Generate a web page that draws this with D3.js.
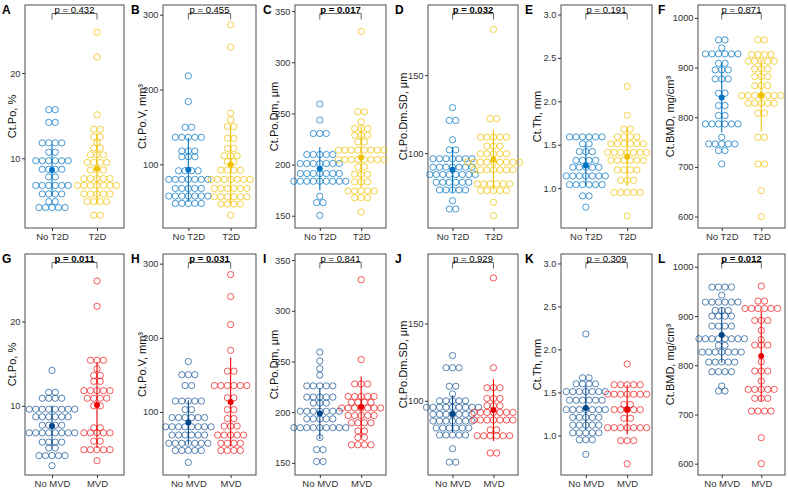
<!DOCTYPE html>
<html>
<head>
<meta charset="utf-8">
<script src="https://cdn.jsdelivr.net/npm/d3@7"></script>
<style>
  body { margin: 0; background: #fff; }
  text { font-family: "Liberation Sans", Arial, Helvetica, sans-serif; }
</style>
</head>
<body>
<div id="chart"></div>
<script>
// groups and labels
const groupsT2D = ["No T2D", "T2D"];
const groupsMVD = ["No MVD", "MVD"];
const lettersT2D = ["A", "B", "C", "D", "E", "F"];
const lettersMVD = ["G", "H", "I", "J", "K", "L"];
const yTitles = ["Ct.Po, %", "Ct.Po.V, mm³", "Ct.Po.Dm, μm", "Ct.Po.Dm.SD, μm", "Ct.Th, mm", "Ct.BMD, mg/cm³"];
const yTicks = [[10, 20], [100, 200, 300], [150, 200, 250, 300, 350], [100, 150], [1, 1.5, 2, 2.5, 3], [600, 700, 800, 900, 1000]];
const yDomains = [[1.8, 28], [15, 313], [138, 356], [52, 195], [0.54, 3.11], [577, 1026]];
const pT2D = ["0.432", "0.455", "0.017", "0.032", "0.191", "0.871"];
const pMVD = ["0.011", "0.031", "0.841", "0.929", "0.309", "0.012"];

// dot rows: [value, number of dots in the stack]
const poNoT2D = [[15.7,2],[14.2,2],[11.8,4],[10.7,2],[9.7,6],[8.7,4],[7.8,2],[6.8,6],[5.8,4],[4.9,2],[4.2,5]];
const poT2D = [[24.8,1],[21.9,1],[15.1,1],[13.4,2],[12.5,2],[11.8,1],[11.2,2],[10.4,3],[9.5,4],[8.6,3],[7.6,5],[6.8,7],[5.8,5],[4.9,4],[3.3,2]];
const povNoT2D = [[218.3,1],[183.9,1],[149.6,2],[136.2,5],[117.9,3],[110.3,3],[91.5,4],[79.9,7],[67.9,5],[57.6,7],[47.8,5]];
const povT2D = [[286.6,1],[256.7,1],[168.3,1],[159.4,1],[150.4,2],[134.8,2],[121.4,2],[111.6,3],[103.6,2],[92.4,4],[79.9,7],[67.9,6],[56.7,6],[46.9,4],[32.1,1]];
const dmNoT2D = [[259.2,1],[243.5,1],[230.4,3],[209.8,5],[201.0,7],[191.2,7],[183.7,9],[169.0,1],[162.8,2],[150.3,1]];
const dmT2D = [[330.1,1],[251.6,2],[241.8,1],[235.3,3],[228.8,3],[222.2,2],[214.1,8],[204.9,8],[197.7,2],[190.5,3],[183.0,3],[174.2,5],[167.6,3],[153.6,1]];
const sdNoT2D = [[129.2,1],[121.0,2],[108.6,1],[102.1,2],[96.4,7],[91.0,7],[86.3,8],[81.3,6],[76.4,5],[69.5,1],[64.2,2]];
const sdT2D = [[179.4,1],[122.1,2],[110.3,5],[104.5,3],[99.6,5],[94.2,9],[89.3,7],[80.3,6],[76.0,5],[68.5,1],[59.9,1]];
const thNoT2D = [[1.59,6],[1.51,2],[1.42,3],[1.32,4],[1.24,5],[1.14,7],[1.04,6],[0.91,2],[0.78,1]];
const thT2D = [[2.17,1],[1.84,1],[1.68,2],[1.59,4],[1.51,6],[1.41,7],[1.32,6],[1.21,4],[1.09,3],[0.95,5],[0.68,1]];
const bmdNoT2D = [[955.7,2],[939.6,1],[927.5,6],[908.7,2],[895.3,3],[877.2,3],[848.3,2],[823.5,2],[803.4,2],[786.6,6],[759.7,1],[746.3,5],[732.9,2],[706.0,1]];
const bmdT2D = [[955.7,2],[926.2,4],[912.8,5],[897.3,3],[881.9,3],[863.8,3],[843.6,7],[828.2,5],[808.1,2],[759.7,2],[706.0,2],[652.3,1],[600.0,1]];

const poNoMVD = [[14.2,1],[11.6,2],[10.9,4],[9.6,8],[8.7,6],[7.7,4],[6.8,8],[5.7,4],[5.0,2],[4.1,5],[2.9,1]];
const poMVD = [[24.8,1],[21.8,1],[15.4,3],[14.4,1],[13.6,2],[12.9,2],[11.8,5],[10.9,4],[10.0,2],[7.4,2],[6.8,5],[5.8,2],[4.8,5],[3.5,1]];
const povNoMVD = [[168.0,1],[150.2,3],[135.6,2],[114.7,5],[103.1,2],[92.4,6],[80.0,8],[68.9,6],[57.8,7],[48.0,5],[32.0,1]];
const povMVD = [[285.3,1],[255.6,1],[217.8,1],[183.1,1],[155.0,2],[135.6,6],[119.1,2],[103.1,2],[91.1,2],[80.9,3],[68.9,5],[57.8,4],[48.0,4]];
const dmNoMVD = [[259.2,1],[250.5,1],[243.0,1],[236.5,1],[225.9,5],[214.8,5],[209.0,3],[200.9,7],[193.4,5],[184.7,9],[175.0,1],[163.0,2],[151.3,2]];
const dmMVD = [[330.6,1],[251.8,1],[227.8,3],[215.5,5],[209.6,4],[204.1,7],[196.7,5],[189.5,4],[181.4,2],[175.0,2],[167.8,4]];
const sdNoMVD = [[129.3,1],[121.4,3],[109.4,2],[104.5,1],[100.0,5],[95.8,9],[91.3,7],[86.9,7],[82.4,6],[77.9,5],[69.0,1],[60.3,2]];
const sdMVD = [[179.5,1],[121.4,1],[108.5,3],[101.5,3],[96.8,3],[92.5,7],[87.6,7],[81.2,2],[77.4,6],[66.2,2]];
const thNoMVD = [[2.18,1],[1.67,2],[1.60,4],[1.51,7],[1.41,6],[1.30,7],[1.21,5],[1.12,5],[1.03,5],[0.95,3],[0.78,1]];
const thMVD = [[1.83,1],[1.59,5],[1.48,7],[1.36,2],[1.30,5],[1.20,2],[1.09,7],[0.94,3],[0.67,1]];
const bmdNoMVD = [[958.7,4],[942.5,1],[928.3,6],[911.3,3],[899.8,4],[879.5,4],[853.8,8],[840.3,2],[826.7,7],[806.4,5],[786.8,4],[757.7,1],[747.5,2]];
const bmdMVD = [[960.7,1],[930.3,2],[915.4,6],[891.0,3],[870.7,1],[852.0,1],[841.0,3],[807.1,1],[788.2,3],[767.9,1],[751.0,5],[732.7,3],[706.9,4],[652.8,1],[600.0,1]];

// mean and SD per panel: [control, case]
const meanT2D = [[8.6, 8.8], [93, 100], [196, 207], [89.3, 95.7], [1.26, 1.36], [840, 844]];
const sdevT2D = [[3.0, 4.2], [43, 53], [21, 30], [14.6, 19], [0.23, 0.34], [70, 72]];
const meanMVD = [[7.6, 10.1], [85.8, 113.3], [198.6, 205.1], [91.5, 94.0], [1.32, 1.30], [861.3, 818.6]];
const sdevMVD = [[2.4, 5.1], [30, 60], [25, 30], [12, 20], [0.26, 0.29], [56, 92]];

const dotsT2D = [[poNoT2D, poT2D], [povNoT2D, povT2D], [dmNoT2D, dmT2D], [sdNoT2D, sdT2D], [thNoT2D, thT2D], [bmdNoT2D, bmdT2D]];
const dotsMVD = [[poNoMVD, poMVD], [povNoMVD, povMVD], [dmNoMVD, dmMVD], [sdNoMVD, sdMVD], [thNoMVD, thMVD], [bmdNoMVD, bmdMVD]];

// layout
const colLeft = [25, 163, 295, 428, 561, 698];
const colRight = [124, 256, 386, 518, 652, 785];
const titleX = [12, 142, 274, 403, 537, 670];
const letterX = [2, 131, 263, 395, 525, 658];
const dotD = 6.5;

const rows = [
  { top: 5, bottom: 228, groups: groupsT2D, letters: lettersT2D, p: pT2D, dots: dotsT2D, mean: meanT2D, sdev: sdevT2D,
    colors: ["#0073C2", "#EFC000"], dotOpacity: 0.8 },
  { top: 254, bottom: 475, groups: groupsMVD, letters: lettersMVD, p: pMVD, dots: dotsMVD, mean: meanMVD, sdev: sdevMVD,
    colors: ["#00468B", "#ED0000"], dotOpacity: 0.72 }
];

const svg = d3.select("#chart").append("svg")
  .attr("width", 788).attr("height", 492);

rows.forEach(row => {
  for (let c = 0; c < 6; c++) {
    const g = svg.append("g");
    const x = d3.scalePoint().domain(row.groups).range([colLeft[c], colRight[c]]).padding(0.6);
    const y = d3.scaleLinear().domain(yDomains[c]).range([row.bottom, row.top]);

    // panel box
    g.append("rect")
      .attr("x", colLeft[c]).attr("y", row.top)
      .attr("width", colRight[c] - colLeft[c]).attr("height", row.bottom - row.top)
      .attr("fill", "none").attr("stroke", "#4d4d4d").attr("stroke-width", 1);

    // y axis
    const fmt = c === 4 ? d3.format(".1f") : d3.format("d");
    const ya = g.append("g")
      .attr("transform", `translate(${colLeft[c]},0)`)
      .call(d3.axisLeft(y).tickValues(yTicks[c]).tickSize(3).tickPadding(1.5).tickFormat(fmt));
    ya.select(".domain").remove();
    ya.selectAll("line").attr("stroke", "#333");
    ya.selectAll("text").attr("fill", "#333").style("font-size", "9.3px");

    // x axis
    const xa = g.append("g")
      .attr("transform", `translate(0,${row.bottom})`)
      .call(d3.axisBottom(x).tickSize(3).tickPadding(2));
    xa.select(".domain").remove();
    xa.selectAll("line").attr("stroke", "#333");
    xa.selectAll("text").attr("fill", "#333").style("font-size", "9.5px");

    // y title
    g.append("text")
      .attr("transform", `translate(${titleX[c]},${(row.top + row.bottom) / 2}) rotate(-90)`)
      .attr("text-anchor", "middle").attr("dy", "0.35em")
      .style("font-size", "11px").attr("fill", "#111")
      .text(yTitles[c]);

    // panel letter
    g.append("text")
      .attr("x", letterX[c]).attr("y", row.top + 9)
      .style("font-size", "12px").style("font-weight", "bold")
      .text(row.letters[c]);

    // dots
    row.groups.forEach((grp, gi) => {
      const cx = x(grp);
      const pts = [];
      row.dots[c][gi].forEach(([v, n]) => {
        for (let i = 0; i < n; i++) pts.push({ v: v, off: (i - (n - 1) / 2) * dotD });
      });
      g.selectAll(null).data(pts).join("circle")
        .attr("cx", d => cx + d.off)
        .attr("cy", d => y(d.v))
        .attr("r", dotD / 2 - 0.1)
        .attr("fill", "none")
        .attr("stroke", row.colors[gi])
        .attr("stroke-opacity", row.dotOpacity)
        .attr("stroke-width", 0.9);

      // mean +/- SD
      const m = row.mean[c][gi], s = row.sdev[c][gi];
      g.append("line")
        .attr("x1", cx).attr("x2", cx)
        .attr("y1", y(m - s)).attr("y2", y(m + s))
        .attr("stroke", row.colors[gi]).attr("stroke-width", 1.1);
      g.append("circle")
        .attr("cx", cx).attr("cy", y(m)).attr("r", 3)
        .attr("fill", row.colors[gi]);
    });

    // p-value bracket
    const x1 = x(row.groups[0]), x2 = x(row.groups[1]);
    const by = row.top + 8.5;
    g.append("path")
      .attr("d", `M${x1},${by + 6}V${by}H${x2}V${by + 6}`)
      .attr("fill", "none").attr("stroke", "#555").attr("stroke-width", 0.9);
    g.append("text")
      .attr("x", (x1 + x2) / 2).attr("y", by - 1)
      .attr("text-anchor", "middle")
      .style("font-size", "9.5px")
      .style("font-weight", +row.p[c] < 0.05 ? "bold" : "normal")
      .text(`p = ${row.p[c]}`);
  }
});
</script>
</body>
</html>
